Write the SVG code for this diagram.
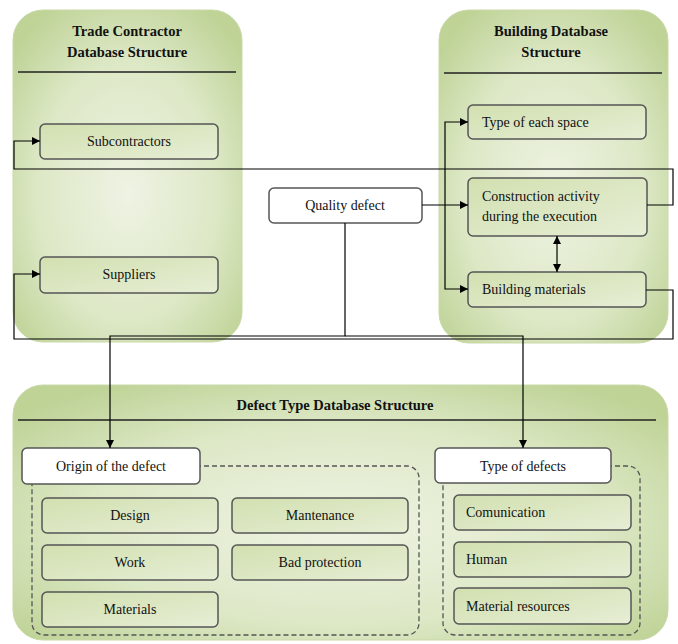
<svg xmlns="http://www.w3.org/2000/svg" width="678" height="644" viewBox="0 0 678 644">
<defs>
<radialGradient id="pg" cx="0.5" cy="0.55" r="0.65">
<stop offset="0" stop-color="#eef3e3"/>
<stop offset="0.6" stop-color="#dde8c6"/>
<stop offset="1" stop-color="#bfd397"/>
</radialGradient>
<linearGradient id="bg" x1="0" y1="0" x2="1" y2="1">
<stop offset="0" stop-color="#d2e0b0"/>
<stop offset="1" stop-color="#e6eed5"/>
</linearGradient>
<marker id="ah" viewBox="0 0 10 10" refX="10" refY="5" markerWidth="9" markerHeight="8" markerUnits="userSpaceOnUse" orient="auto-start-reverse">
<path d="M0,0 L10,5 L0,10 Z" fill="#000"/>
</marker>
</defs>
<style>
.panel{fill:url(#pg);stroke:#c9d9a8;stroke-width:1}
.sep{stroke:#222;stroke-width:1.3}
.box{fill:url(#bg);stroke:#555;stroke-width:1.5}
.wbox{fill:#fff;stroke:#555;stroke-width:1.5}
.dash{fill:none;stroke:#555;stroke-width:1.3;stroke-dasharray:5,3}
text{font-family:'Liberation Serif','Times New Roman','DejaVu Serif',serif}
.t{font-size:14px;fill:#111}
.c{text-anchor:middle}
.h{font-size:14.5px;font-weight:bold;fill:#111;text-anchor:middle}
.ln{fill:none;stroke:#000;stroke-width:1.2}
</style>

<g id="trade-panel">
<rect class="panel" x="13" y="10" width="229" height="332" rx="30"/>
<text class="h" x="127" y="36">Trade Contractor</text>
<text class="h" x="127" y="57">Database Structure</text>
<line class="sep" x1="18" y1="72" x2="236" y2="72"/>
</g>
<g id="building-panel">
<rect class="panel" x="439" y="10" width="229" height="333" rx="30"/>
<text class="h" x="551" y="36">Building Database</text>
<text class="h" x="551" y="57">Structure</text>
<line class="sep" x1="444" y1="73" x2="662" y2="73"/>
</g>
<g id="defect-panel">
<rect class="panel" x="13" y="385" width="655" height="255" rx="30"/>
<text class="h" x="335" y="410">Defect Type Database Structure</text>
<line class="sep" x1="18" y1="420" x2="656" y2="420"/>
<rect class="dash" x="32" y="466" width="387" height="169" rx="12"/>
<rect class="dash" x="443" y="466" width="197" height="169" rx="12"/>
</g>

<g id="subcontractors"><rect class="box" x="40" y="124" width="178" height="35" rx="5"/><text class="t c" x="129" y="146">Subcontractors</text></g>
<g id="suppliers"><rect class="box" x="40" y="257" width="178" height="36" rx="5"/><text class="t c" x="129" y="279">Suppliers</text></g>
<g id="quality-defect"><rect class="wbox" x="269" y="188" width="153" height="35" rx="5"/><text class="t c" x="345" y="210">Quality defect</text></g>
<g id="type-space"><rect class="box" x="468" y="105" width="178" height="34" rx="5"/><text class="t" x="482" y="127">Type of each space</text></g>
<g id="construction"><rect class="box" x="468" y="178" width="179" height="58" rx="5"/><text class="t" x="482" y="201">Construction activity</text><text class="t" x="482" y="221">during the execution</text></g>
<g id="building-materials"><rect class="box" x="468" y="272" width="178" height="35" rx="5"/><text class="t" x="482" y="294">Building materials</text></g>

<g id="origin"><rect class="wbox" x="22" y="448" width="178" height="36" rx="5"/><text class="t c" x="111" y="471">Origin of the defect</text></g>
<g id="design"><rect class="box" x="42" y="498" width="176" height="35" rx="5"/><text class="t c" x="130" y="520">Design</text></g>
<g id="work"><rect class="box" x="42" y="545" width="176" height="35" rx="5"/><text class="t c" x="130" y="567">Work</text></g>
<g id="materials"><rect class="box" x="42" y="592" width="176" height="35" rx="5"/><text class="t c" x="130" y="614">Materials</text></g>
<g id="mantenance"><rect class="box" x="232" y="498" width="176" height="35" rx="5"/><text class="t c" x="320" y="520">Mantenance</text></g>
<g id="bad-protection"><rect class="box" x="232" y="545" width="176" height="35" rx="5"/><text class="t c" x="320" y="567">Bad protection</text></g>

<g id="type-defects"><rect class="wbox" x="435" y="448" width="176" height="35" rx="5"/><text class="t c" x="523" y="471">Type of defects</text></g>
<g id="comunication"><rect class="box" x="454" y="495" width="177" height="35" rx="5"/><text class="t" x="466" y="517">Comunication</text></g>
<g id="human"><rect class="box" x="454" y="542" width="177" height="35" rx="5"/><text class="t" x="466" y="564">Human</text></g>
<g id="material-resources"><rect class="box" x="454" y="588" width="177" height="36" rx="5"/><text class="t" x="466" y="611">Material resources</text></g>

<g id="connectors">
<path class="ln" d="M647,205 H673 V169 H14 V141 H40" marker-end="url(#ah)"/>
<path class="ln" d="M646,290 H673 V339 H14 V274 H40" marker-end="url(#ah)"/>
<path class="ln" d="M422,205 H468" marker-end="url(#ah)"/>
<path class="ln" d="M468,122 H445 V289 H468" marker-start="url(#ah)" marker-end="url(#ah)"/>
<path class="ln" d="M557,236 V272" marker-start="url(#ah)" marker-end="url(#ah)"/>
<path class="ln" d="M345,223 V336 H110 V448" marker-end="url(#ah)"/>
<path class="ln" d="M345,336 H523 V448" marker-end="url(#ah)"/>
</g>
</svg>
